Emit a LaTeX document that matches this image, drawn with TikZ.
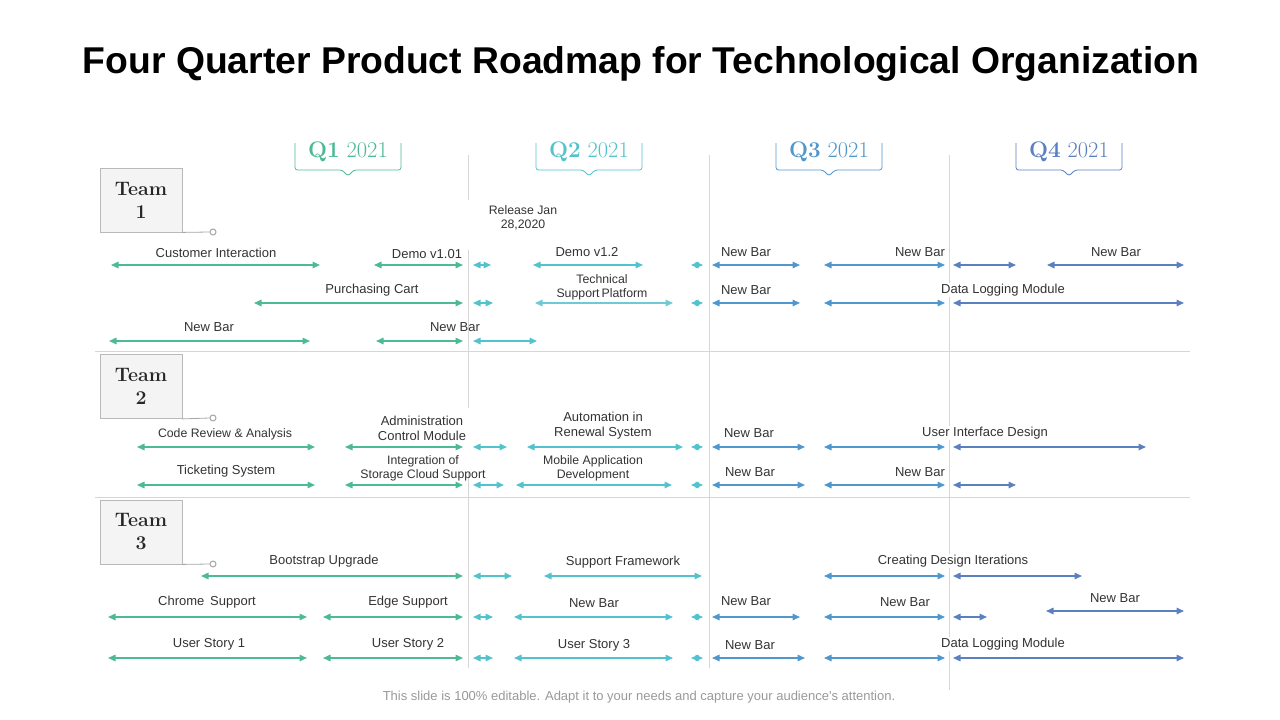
\documentclass[tikz,border=0pt]{standalone}
\usepackage{fontspec}
\newfontfamily\lsans{Liberation Sans}
\usetikzlibrary{arrows.meta}
\definecolor{cqa}{HTML}{4DBA96}
\definecolor{cqb}{HTML}{52C2CC}
\definecolor{cqbl}{HTML}{6ECBD6}
\definecolor{cqc}{HTML}{4F97CC}
\definecolor{cqd}{HTML}{5A80C0}
\definecolor{txt}{HTML}{333333}
\definecolor{gridc}{HTML}{D6D6D6}
\newcommand\rmbar[5]{\coordinate (#1a) at (#2,#4); \coordinate (#1b) at (#3,#4); \draw[rarrow,#5] (#1a) -- (#1b);}
\newcommand\qbrack[2]{\draw[#2,line width=0.8pt,rounded corners=2.5pt] (#1-53,143) -- (#1-53,170) -- (#1-6,170) -- (#1,176) -- (#1+6,170) -- (#1+53,170) -- (#1+53,143);}
\begin{document}
\begin{tikzpicture}[x=1pt,y=-1pt,
  rarrow/.style={line width=1.5pt,{Triangle[length=7.5pt,width=6.5pt]}-{Triangle[length=7.5pt,width=6.5pt]}},
  lab/.style={font=\lsans\fontsize{13}{15}\selectfont,text=txt,align=center,inner sep=0pt},
  slab/.style={lab,font=\lsans\fontsize{12.3}{14}\selectfont},
  wlab/.style={fill=white,inner sep=1pt},
  teambox/.style={draw=gray!55,fill=gray!9,line width=0.8pt,minimum width=82pt,minimum height=64pt,align=center,font=\bfseries\fontsize{19.5}{23}\selectfont,text=black!85},
  pin/.style={circle,draw=gray!70,line width=1pt,fill=white,inner sep=0pt,minimum size=6pt},
  qlab/.style={font=\fontsize{22.5}{26}\selectfont},
  gridl/.style={draw=gridc,line width=0.8pt}]
\useasboundingbox (0,0) rectangle (1280,720);
% title
\node[font=\lsans\bfseries\fontsize{37.3}{42}\selectfont,text=black] (title) at (641,64) {Four Quarter Product Roadmap for Technological Organization};
% grid
\draw[gridl] (468,155) -- (468,200) (468,250) -- (468,408) (468,472) -- (468,668);
\draw[gridl] (709,155) -- (709,668);
\draw[gridl] (949,155) -- (949,690);
\draw[gridl] (95,351) -- (1190,351);
\draw[gridl] (95,497) -- (1190,497);
% headers
\qbrack{348}{cqa}
\qbrack{589}{cqb}
\qbrack{829}{cqc}
\qbrack{1069}{cqd}
\node[qlab,text=cqa] (q1) at (348,152) {\textbf{Q1} 2021};
\node[qlab,text=cqb] (q2) at (589,152) {\textbf{Q2} 2021};
\node[qlab,text=cqc] (q3) at (829,152) {\textbf{Q3} 2021};
\node[qlab,text=cqd] (q4) at (1069,152) {\textbf{Q4} 2021};
% teams
\node[teambox] (t1) at (141,200) {Team\\1};
\node[teambox] (t2) at (141,386.5) {Team\\2};
\node[teambox] (t3) at (141,532) {Team\\3};
\node[pin] (p1) at (213,232) {};
\node[pin] (p2) at (213,418) {};
\node[pin] (p3) at (213,564) {};
\draw[gray!70,line width=0.8pt] (t1.south east) -- (p1.west);
\draw[gray!70,line width=0.8pt] (t2.south east) -- (p2.west);
\draw[gray!70,line width=0.8pt] (t3.south east) -- (p3.west);
% release
\node[slab] (rel) at (523,218) {Release Jan\\28,2020};
% ---------- Team 1 ----------
\rmbar{a1}{111}{320}{265}{cqa}
\rmbar{a2}{374}{463}{265}{cqa}
\rmbar{a3}{473}{491}{265}{cqb}
\rmbar{a4}{533}{643}{265}{cqb}
\rmbar{a5}{691}{703}{265}{cqb}
\rmbar{a6}{712}{800}{265}{cqc}
\rmbar{a7}{824}{945}{265}{cqc}
\rmbar{a8}{953}{1016}{265}{cqd}
\rmbar{a9}{1047}{1184}{265}{cqd}
\node[lab] (la1) at (216,253) {Customer Interaction};
\node[lab] (la2) at (427,254) {Demo v1.01};
\node[lab] (la4) at (587,252) {Demo v1.2};
\node[lab] (la6) at (746,252) {New Bar};
\node[lab] (la7) at (920,252) {New Bar};
\node[lab] (la9) at (1116,252) {New Bar};
\rmbar{b1}{254}{463}{303}{cqa}
\rmbar{b2}{473}{493}{303}{cqb}
\rmbar{b3}{535}{673}{303}{cqbl}
\rmbar{b4}{691}{703}{303}{cqb}
\rmbar{b5}{712}{800}{303}{cqc}
\rmbar{b6}{824}{945}{303}{cqc}
\rmbar{b7}{953}{1184}{303}{cqd}
\node[lab] (lb1) at (372,290) {Purchasing Cart};
\node[slab] (lb3) at (602,287) {Technical\\Support\,Platform};
\node[lab] (lb5) at (746,290) {New Bar};
\node[lab,wlab] (lb7) at (1003,290) {Data Logging Module};
\rmbar{c1}{109}{310}{341}{cqa}
\rmbar{c2}{376}{463}{341}{cqa}
\rmbar{c3}{473}{537}{341}{cqb}
\node[lab] (lc1) at (209,327) {New Bar};
\node[lab] (lc2) at (455,327) {New Bar};
% ---------- Team 2 ----------
\rmbar{d1}{137}{315}{447}{cqa}
\rmbar{d2}{345}{463}{447}{cqa}
\rmbar{d3}{473}{507}{447}{cqb}
\rmbar{d4}{527}{683}{447}{cqb}
\rmbar{d5}{691}{703}{447}{cqb}
\rmbar{d6}{712}{805}{447}{cqc}
\rmbar{d7}{824}{945}{447}{cqc}
\rmbar{d8}{953}{1146}{447}{cqd}
\node[slab] (ld1) at (225,434) {Code Review \& Analysis};
\node[lab] (ld2) at (422,428) {Administration\\Control Module};
\node[lab] (ld4) at (603,426) {Automation in\\Renewal System};
\node[lab] (ld6) at (749,433) {New Bar};
\node[lab,wlab] (ld7) at (985,433) {User Interface Design};
\rmbar{e1}{137}{315}{485}{cqa}
\rmbar{e2}{345}{463}{485}{cqa}
\rmbar{e3}{473}{504}{485}{cqb}
\rmbar{e4}{516}{672}{485}{cqb}
\rmbar{e5}{691}{703}{485}{cqb}
\rmbar{e6}{712}{805}{485}{cqc}
\rmbar{e7}{824}{945}{485}{cqc}
\rmbar{e8}{953}{1016}{485}{cqd}
\node[lab] (le1) at (226,471) {Ticketing System};
\node[slab] (le2) at (423,468) {Integration of\\Storage Cloud Support};
\node[slab] (le4) at (593,468) {Mobile Application\\Development};
\node[lab] (le6) at (750,472) {New Bar};
\node[lab] (le7) at (920,472) {New Bar};
% ---------- Team 3 ----------
\rmbar{f1}{201}{463}{576}{cqa}
\rmbar{f2}{473}{512}{576}{cqb}
\rmbar{f3}{544}{702}{576}{cqb}
\rmbar{f4}{824}{945}{576}{cqc}
\rmbar{f5}{953}{1082}{576}{cqd}
\node[lab] (lf1) at (324,561) {Bootstrap Upgrade};
\node[lab] (lf3) at (623,562) {Support Framework};
\node[lab,wlab] (lf4) at (953,561) {Creating Design Iterations};
\rmbar{g1}{108}{307}{617}{cqa}
\rmbar{g2}{323}{463}{617}{cqa}
\rmbar{g3}{473}{493}{617}{cqb}
\rmbar{g4}{514}{673}{617}{cqb}
\rmbar{g5}{691}{703}{617}{cqb}
\rmbar{g6}{712}{800}{617}{cqc}
\rmbar{g7}{824}{945}{617}{cqc}
\rmbar{g8}{953}{987}{617}{cqd}
\rmbar{g9}{1046}{1184}{611}{cqd}
\node[lab] (lg1) at (207,602) {Chrome\, Support};
\node[lab] (lg2) at (408,602) {Edge Support};
\node[lab] (lg4) at (594,603) {New Bar};
\node[lab] (lg6) at (746,601) {New Bar};
\node[lab] (lg7) at (905,602) {New Bar};
\node[lab] (lg9) at (1115,598) {New Bar};
\rmbar{h1}{108}{307}{658}{cqa}
\rmbar{h2}{323}{463}{658}{cqa}
\rmbar{h3}{473}{493}{658}{cqb}
\rmbar{h4}{514}{673}{658}{cqb}
\rmbar{h5}{691}{703}{658}{cqb}
\rmbar{h6}{712}{805}{658}{cqc}
\rmbar{h7}{824}{945}{658}{cqc}
\rmbar{h8}{953}{1184}{658}{cqd}
\node[lab] (lh1) at (209,644) {User Story 1};
\node[lab] (lh2) at (408,644) {User Story 2};
\node[lab] (lh4) at (594,645) {User Story 3};
\node[lab] (lh6) at (750,645) {New Bar};
\node[lab,wlab] (lh8) at (1003,644) {Data Logging Module};
% footer
\node[lab,text=gray!80] (foot) at (639,697) {This slide is 100\% editable. Adapt it to your needs and capture your audience's attention.};
\end{tikzpicture}
\end{document}
